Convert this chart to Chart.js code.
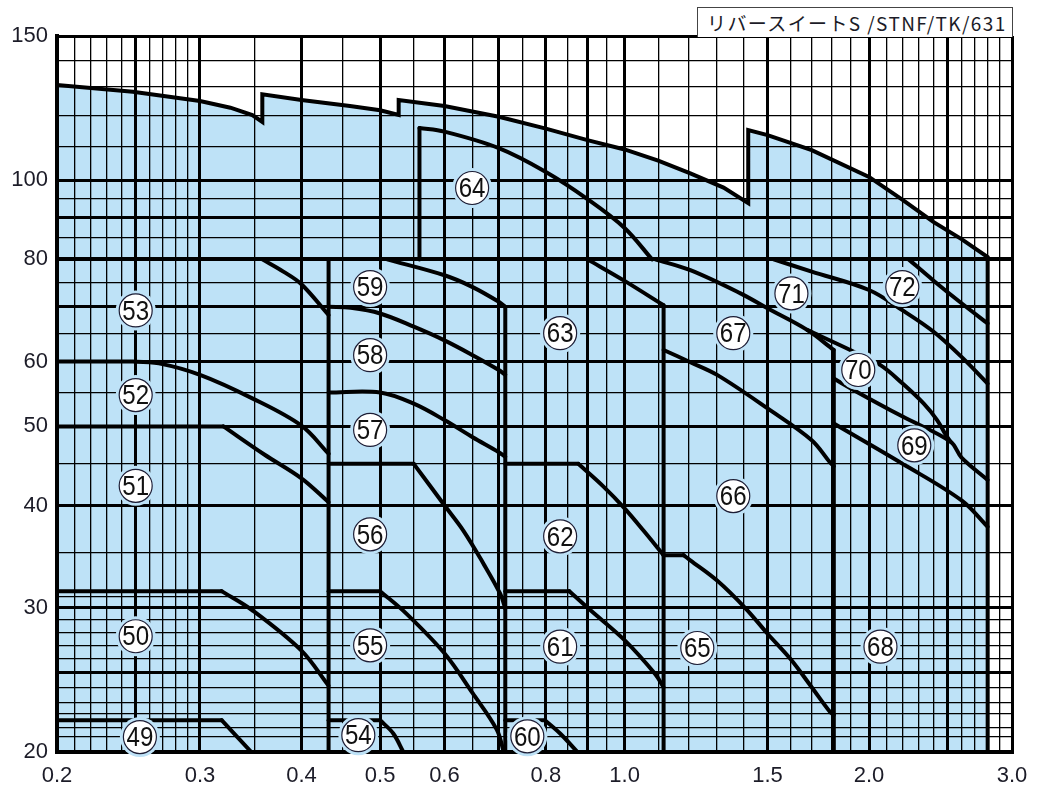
<!DOCTYPE html>
<html>
<head>
<meta charset="utf-8">
<script src="https://cdn.jsdelivr.net/npm/chart.js@4.4.1/dist/chart.umd.min.js"></script>
<style>
    body { margin: 0; background: #fff; }
    #wrap { position: relative; width: 1043px; height: 805px; }
    #chart { position: absolute; left: 0; top: 0; }
    #model {
        position: absolute; left: 697px; top: 7px; width: 305px; height: 29px;
        border: 1px solid #444; border-bottom: none; background: #fff;
        padding-left: 9px; box-sizing: content-box;
        font: 19px "Noto Sans CJK JP", "Noto Sans", sans-serif; line-height: 29px;
        letter-spacing: 1.4px; color: #1c1c28; white-space: nowrap;
    }
</style>
</head>
<body>
<div id="wrap">
    <canvas id="chart" width="1043" height="805"></canvas>
    <div id="model">リバースイートS /STNF/TK/631</div>
</div>
<script>
// Colours / fonts
const BLUE = '#bee2f7';
const TEXT = '#1c1c28';
const FONT = '"Liberation Sans", Arial, sans-serif';

// Grid lines (log-log paper)
const X_GRID = [0.2, 0.21, 0.22, 0.23, 0.24, 0.25, 0.26, 0.27, 0.28, 0.29, 0.3, 0.35, 0.4, 0.45, 0.5, 0.55,
    0.6, 0.65, 0.7, 0.75, 0.8, 0.85, 0.9, 0.95, 1.0, 1.1, 1.2, 1.3, 1.4, 1.5, 1.6, 1.7, 1.8, 1.9,
    2.0, 2.1, 2.2, 2.3, 2.4, 2.5, 2.6, 2.7, 2.8, 2.9, 3.0];
const X_THICK = [0.2, 0.25, 0.3, 0.4, 0.5, 0.6, 0.7, 0.8, 0.9, 1.0, 1.5, 2.0, 2.5, 3.0];
const X_LABELS = [0.2, 0.3, 0.4, 0.5, 0.6, 0.8, 1.0, 1.5, 2.0, 3.0];

const Y_GRID = [20, 20.9, 21.4, 22.3, 23, 24, 25, 26, 27, 28, 29, 30, 31, 35, 40, 45, 50, 55, 60, 65,
    70, 75, 80, 85, 90, 95, 100, 110, 120, 130, 140, 150];
const Y_THICK = [20, 25, 30, 40, 50, 60, 70, 80, 90, 100, 150];
const Y_LABELS = [20, 30, 40, 50, 60, 80, 100, 150];

// Outer envelope (filled area)
const envelope = [[0.2, 130.7], [0.248, 128.2], [0.3, 124.9], [0.327, 122.6], [0.348, 120.1], [0.358, 117.8],
    [0.358, 127.3], [0.4, 125.3], [0.459, 123.2], [0.5, 121.7], [0.527, 120.1],
    [0.527, 125.3], [0.6, 123.2], [0.7, 119.5], [0.8, 115.6], [0.9, 111.9], [1.0, 109.0], [1.1, 105.6],
    [1.205, 101.9], [1.324, 97.9], [1.42, 93.7],
    [1.42, 115.1], [1.5, 113.5], [1.7, 108.8], [2.0, 100.9], [2.2, 94.6], [2.4, 88.9],
    [2.6, 84.7], [2.8, 80.5], [2.8, 20]];

// Flat (straight) parts of boundaries, up to the knee
const flat51_52 = [[0.2, 50], [0.3206, 50]];
const flat50_51 = [[0.2, 31.45], [0.319, 31.45]];
const flat49_50 = [[0.2, 21.87], [0.319, 21.87]];
const flat56_57 = [[0.432, 45], [0.55, 45]];
const flat55_56 = [[0.432, 31.45], [0.5, 31.45]];
const flat54_55 = [[0.432, 21.87], [0.5, 21.87]];
const flat62_63 = [[0.713, 45], [0.877, 45]];
const flat61_62 = [[0.713, 31.45], [0.855, 31.45]];
const flat60_61 = [[0.713, 21.87], [0.798, 21.87]];
const flat65_66 = [[1.117, 34.8], [1.182, 34.8]];

// Curved boundaries
const c53Top = [[0.358, 80], [0.38, 77.3], [0.4, 74.6], [0.432, 68.4]];
const c52_53 = [[0.2, 60], [0.248, 60], [0.267, 59.7], [0.3, 57.8], [0.348, 54.1], [0.4, 50.1], [0.432, 46.3]];
const c51_52 = [[0.3206, 50], [0.36, 46.2], [0.4, 43.2], [0.432, 40.4]];
const c50_51 = [[0.319, 31.45], [0.348, 29.8], [0.4, 26.6], [0.432, 24.1]];
const c49_50 = [[0.319, 21.87], [0.347, 20]];

const c59Top = [[0.51, 80], [0.6, 76.5], [0.65, 74.0], [0.7, 71.0], [0.713, 70.0]];
const c58_59 = [[0.432, 70], [0.46, 69.8], [0.5, 68.7], [0.55, 66.2], [0.6, 63.7], [0.65, 61.1], [0.7, 58.6], [0.713, 57.8]];
const c57_58 = [[0.432, 55], [0.5, 55], [0.55, 53.3], [0.6, 50.9], [0.65, 48.5], [0.7, 46.5], [0.713, 45.9]];
const c56_57 = [[0.55, 45], [0.6, 40.05], [0.633, 37.3], [0.67, 34.0], [0.703, 31.2], [0.713, 29.95]];
const c55_56 = [[0.5, 31.45], [0.539, 29.5], [0.6, 26.4], [0.65, 23.6], [0.696, 21.3], [0.71, 20]];
const c54_55 = [[0.5, 21.87], [0.519, 21.07], [0.534, 20]];

const c64Top = [[0.559, 115.8], [0.6, 114.6], [0.7, 109.4], [0.8, 102.3], [0.9, 94.8], [1.0, 87.4], [1.081, 80]];
const c63Top = [[0.9, 80], [1.0, 75.3], [1.117, 70.3]];
const c62_63 = [[0.877, 45], [0.942, 42.2], [1.0, 39.7], [1.055, 37.3], [1.117, 34.8]];
const c61_62 = [[0.855, 31.45], [0.908, 29.8], [1.0, 27.4], [1.091, 24.9], [1.117, 24.0]];
const c60_61 = [[0.798, 21.87], [0.833, 21.07], [0.875, 20]];

const c67_71 = [[1.091, 80], [1.205, 77.6], [1.389, 72.7], [1.5, 69.7], [1.678, 65.6], [1.809, 62.0]];
const c66_67 = [[1.117, 62.0], [1.205, 59.9], [1.3, 57.8], [1.5, 52.6], [1.7, 48.1], [1.79, 45.2], [1.81, 44.7]];
const c65_66 = [[1.182, 34.8], [1.205, 34.3], [1.3, 32.4], [1.41, 29.95], [1.5, 27.9],
    [1.6, 26.0], [1.7, 24.0], [1.79, 22.4], [1.81, 22.2]];

const c72Top = [[2.238, 80], [2.4, 75.4], [2.6, 70.7], [2.8, 66.8]];
const c71_72 = [[1.526, 80], [1.7, 77.3], [2.0, 73.4], [2.2, 69.3], [2.4, 65.3], [2.6, 60.8], [2.8, 56.4]];
const c70Top = [[1.678, 65.6], [1.896, 62.0], [2.066, 59.4], [2.2, 56.4], [2.336, 53.3], [2.426, 50.9], [2.484, 48.9], [2.52, 47.9]];
const c69_70 = [[1.81, 57.2], [1.933, 55.1], [2.2, 51.4], [2.52, 47.9], [2.6, 45.8], [2.8, 43.0]];
const c68_69 = [[1.81, 50.4], [2.2, 45.0], [2.6, 40.6], [2.8, 37.7]];

// Vertical dividers
const dividers = [
    [[0.432, 80], [0.432, 20]],
    [[0.559, 80], [0.559, 115.8]],
    [[0.713, 70.0], [0.713, 20]],
    [[1.117, 70.3], [1.117, 20]],
    [[1.81, 62.0], [1.81, 20]]
];

// Circled region numbers
const LABEL_NAMES = ['49', '50', '51', '52', '53', '54', '55', '56', '57', '58', '59', '60', '61', '62',
    '63', '64', '65', '66', '67', '68', '69', '70', '71', '72'];
const LABEL_X = [0.253, 0.25, 0.25, 0.25, 0.25, 0.47, 0.486, 0.486, 0.486, 0.486, 0.486, 0.759, 0.833, 0.833,
    0.833, 0.649, 1.229, 1.361, 1.361, 2.066, 2.274, 1.94, 1.605, 2.198];
const LABEL_Y = [20.86, 27.7, 42.3, 54.6, 69.3, 20.97, 27.0, 36.9, 49.5, 61.1, 74.0, 20.9, 26.9, 36.7,
    65.0, 97.8, 26.8, 41.1, 65.0, 26.9, 47.4, 58.6, 72.7, 74.0];

const curves = [c53Top, c52_53, c51_52, c50_51, c49_50, c59Top, c58_59, c57_58, c56_57, c55_56, c54_55,
    c64Top, c63Top, c62_63, c61_62, c60_61, c67_71, c66_67, c65_66, c72Top, c71_72, c70Top, c69_70, c68_69];
const straights = [flat51_52, flat50_51, flat49_50, flat56_57, flat55_56, flat54_55, flat62_63, flat61_62,
    flat60_61, flat65_66, ...dividers];

const toXY = pts => pts.map(([x, y]) => ({ x, y }));

const datasets = [];
curves.forEach(pts => datasets.push({
    data: toXY(pts),
    borderColor: '#000', borderWidth: 4, pointRadius: 0, fill: false,
    tension: 0.35, borderJoinStyle: 'round', borderCapStyle: 'round', order: 0
}));
straights.forEach(pts => datasets.push({
    data: toXY(pts),
    borderColor: '#000', borderWidth: 4, pointRadius: 0, fill: false, tension: 0,
    borderCapStyle: 'round', order: 0
}));
datasets.push({
    data: toXY(envelope),
    borderColor: '#000', borderWidth: 4, pointRadius: 0, tension: 0,
    fill: 'start', backgroundColor: BLUE, borderJoinStyle: 'miter', order: 1
});

/**
 * Circled numbers with a blue halo masking the grid behind them
 */
const circleLabels = {
    id: 'circleLabels',
    afterDraw(chart) {
        const { ctx, scales: { x, y } } = chart;
        LABEL_NAMES.forEach((name, i) => {
            const px = x.getPixelForValue(LABEL_X[i]);
            const py = y.getPixelForValue(LABEL_Y[i]);
            ctx.save();
            ctx.beginPath();
            ctx.arc(px, py, 20, 0, Math.PI * 2);
            ctx.fillStyle = BLUE;
            ctx.fill();
            ctx.beginPath();
            ctx.arc(px, py, 16.5, 0, Math.PI * 2);
            ctx.fillStyle = '#fff';
            ctx.fill();
            ctx.lineWidth = 1.2;
            ctx.strokeStyle = '#1d1d35';
            ctx.stroke();
            ctx.translate(px, py);
            ctx.scale(0.86, 1);
            ctx.font = '28px ' + FONT;
            ctx.textAlign = 'center';
            ctx.textBaseline = 'middle';
            ctx.fillStyle = '#111';
            ctx.fillText(name, 0, 1.5);
            ctx.restore();
        });
    }
};

const gridWidth = (list) => (c) => (c.tick && list.includes(c.tick.value)) ? (c.tick.value === 80 ? 4 : 3) : 1.3;

new Chart(document.getElementById('chart'), {
    type: 'line',
    data: { datasets },
    options: {
        responsive: false,
        animation: false,
        layout: { padding: { top: 36, right: 31, left: 0, bottom: 0 } },
        plugins: { legend: { display: false }, tooltip: { enabled: false }, title: { display: false } },
        scales: {
            x: {
                type: 'logarithmic', min: 0.2, max: 3.0,
                afterBuildTicks: s => { s.ticks = X_GRID.map(v => ({ value: v })); },
                afterFit: s => { s.height = 53; },
                grid: { color: '#000', lineWidth: gridWidth(X_THICK), drawTicks: false, z: 1 },
                border: { color: '#000', width: 4, z: 2 },
                ticks: {
                    autoSkip: false, maxRotation: 0, padding: 11, color: TEXT,
                    font: { size: 22, family: FONT },
                    callback: v => X_LABELS.includes(v) ? v.toFixed(1) : ''
                }
            },
            y: {
                type: 'logarithmic', min: 20, max: 150,
                afterBuildTicks: s => { s.ticks = Y_GRID.map(v => ({ value: v })); },
                afterFit: s => { s.width = 57; },
                grid: { color: '#000', lineWidth: gridWidth(Y_THICK), drawTicks: false, z: 1 },
                border: { color: '#000', width: 4, z: 2 },
                ticks: {
                    autoSkip: false, padding: 9, color: TEXT,
                    font: { size: 22, family: FONT },
                    callback: v => Y_LABELS.includes(v) ? String(v) : ''
                }
            }
        }
    },
    plugins: [circleLabels]
});
</script>
</body>
</html>
